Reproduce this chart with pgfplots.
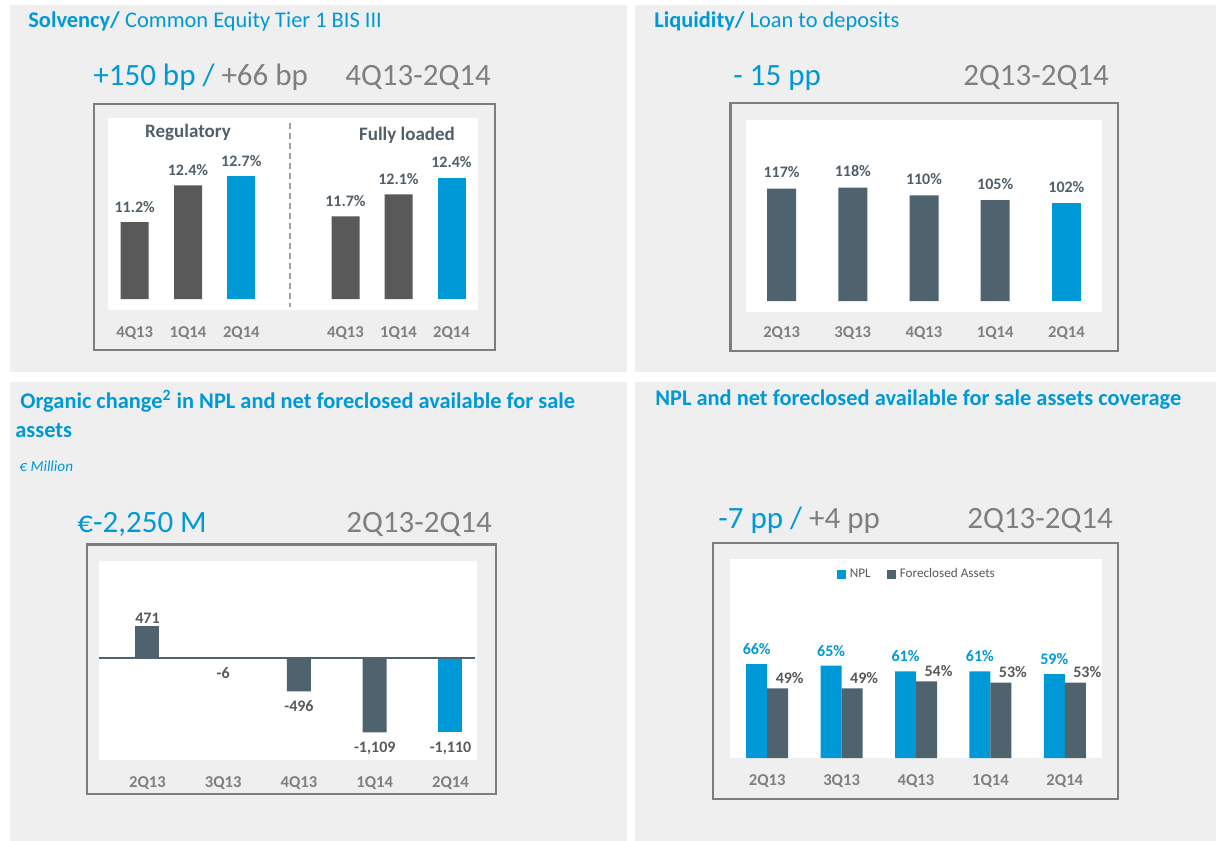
\documentclass[border=0pt]{standalone}
\usepackage{pgfplots}
\pgfplotsset{compat=1.18}
\usepackage{fontspec}
\setmainfont{Carlito}
\definecolor{cblue}{RGB}{0,153,215}
\definecolor{cslate}{RGB}{78,99,110}
\definecolor{cdark}{RGB}{89,89,89}
\definecolor{cgray}{RGB}{127,127,127}
\definecolor{cbg}{RGB}{239,239,239}
\definecolor{cbox}{RGB}{125,125,125}
\definecolor{clab}{RGB}{80,95,105}
\newcommand\fs[1]{\fontsize{#1}{#1}\selectfont}
\pgfplotsset{
  panel/.style={
    scale only axis,
    anchor=north west,
    axis line style={draw=none},
    major tick length=0pt,
    ytick=\empty,
    xtick={0,...,4},
    xticklabel style={font=\fs{8.3}\bfseries, text=cgray, anchor=base, inner sep=0pt},
    nodes near coords style={anchor=base, inner sep=0pt},
    /pgf/number format/assume math mode=true,
  },
}
\begin{document}
\begin{tikzpicture}
\begin{scope}[x=0.5pt,y=-0.5pt]
\useasboundingbox (0,0) rectangle (1216,841);
\fill[white] (0,0) rectangle (1216,841);
% panels
\fill[cbg] (10,5) rectangle (627,372);
\fill[cbg] (635,5) rectangle (1216,372);
\fill[cbg] (10,382) rectangle (627,841);
\fill[cbg] (635,382) rectangle (1216,841);
% boxes
\draw[cbox, line width=1.25pt] (94,104) rectangle (495,350);
\draw[cbox, line width=1.25pt] (730.5,103) rectangle (1118,351);
\draw[cbox, line width=1.25pt] (87,544.5) rectangle (496,794);
\draw[cbox, line width=1.25pt] (713,543) rectangle (1118,799);
% white plot areas
\fill[white] (108,118) rectangle (478,310);
\fill[white] (746,120) rectangle (1102,312);
\fill[white] (99,561) rectangle (477,760);
\fill[white] (730,559) rectangle (1102,758);
% dashed divider
\draw[cgray!75, line width=0.8pt, dash pattern=on 3pt off 2pt] (290,123) -- (290,307);
% texts top-left
\node[anchor=base west, inner sep=0, text=cblue, font=\fs{11.2}] at (28,27) {\textbf{Solvency/} Common Equity Tier 1 BIS III};
\node[anchor=base west, inner sep=0, font=\fs{15.5}] at (93,85) {\textcolor{cblue}{+150 bp /} \textcolor{cgray}{+66 bp}};
\node[anchor=base west, inner sep=0, text=cgray, font=\fs{15.5}] at (345,85) {4Q13-2Q14};
\node[anchor=base, inner sep=0, text=clab, font=\fs{9.5}\bfseries] at (188,137) {Regulatory};
\node[anchor=base, inner sep=0, text=clab, font=\fs{9.5}\bfseries] at (407,140) {Fully loaded};
% texts top-right
\node[anchor=base west, inner sep=0, text=cblue, font=\fs{11.2}] at (654,27) {\textbf{Liquidity/} Loan to deposits};
\node[anchor=base west, inner sep=0, text=cblue, font=\fs{15.5}] at (733,85) {- 15 pp};
\node[anchor=base west, inner sep=0, text=cgray, font=\fs{15.5}] at (963,85) {2Q13-2Q14};
% texts bottom-left
\node[anchor=base west, inner sep=0, text=cblue, font=\fs{11.2}\bfseries] at (20,408) {Organic change\textsuperscript{2} in NPL and net foreclosed available for sale};
\node[anchor=base west, inner sep=0, text=cblue, font=\fs{11.2}\bfseries] at (15,437) {assets};
\node[anchor=base west, inner sep=0, text=cblue, font=\fs{7.6}\itshape] at (19,471) {€ Million};
\node[anchor=base west, inner sep=0, text=cblue, font=\fs{15.5}] at (77,532) {€-2,250 M};
\node[anchor=base west, inner sep=0, text=cgray, font=\fs{15.5}] at (346,532) {2Q13-2Q14};
% texts bottom-right
\node[anchor=base west, inner sep=0, text=cblue, font=\fs{11.2}\bfseries] at (655,405) {NPL and net foreclosed available for sale assets coverage};
\node[anchor=base west, inner sep=0, font=\fs{15.5}] at (718,528) {\textcolor{cblue}{-7 pp /} \textcolor{cgray}{+4 pp}};
\node[anchor=base west, inner sep=0, text=cgray, font=\fs{15.5}] at (967,528) {2Q13-2Q14};
\end{scope}

% Solvency - Regulatory
\begin{axis}[panel, at={(54pt,-59.5pt)}, width=80pt, height=90pt,
  xmin=-0.5, xmax=2.5, ymin=8.7, ymax=14.563,
  xtick={0,1,2}, xticklabels={4Q13,1Q14,2Q14},
  xticklabel style={yshift=-19pt},
  ybar, bar width=14pt, bar shift=0pt,
  nodes near coords={\pgfmathprintnumber[fixed,fixed zerofill,precision=1]{\pgfplotspointmeta}\%},
  nodes near coords style={font=\fs{8}\bfseries, text=clab, yshift=5pt}]
\addplot[fill=cdark, draw=none] coordinates {(0,11.2) (1,12.4)};
\addplot[fill=cblue, draw=none] coordinates {(2,12.7)};
\end{axis}

% Solvency - Fully loaded
\begin{axis}[panel, at={(159.5pt,-59.5pt)}, width=79.5pt, height=90pt,
  xmin=-0.5, xmax=2.5, ymin=10.2, ymax=13.47,
  xtick={0,1,2}, xticklabels={4Q13,1Q14,2Q14},
  xticklabel style={yshift=-19pt},
  ybar, bar width=14pt, bar shift=0pt,
  nodes near coords={\pgfmathprintnumber[fixed,fixed zerofill,precision=1]{\pgfplotspointmeta}\%},
  nodes near coords style={font=\fs{8}\bfseries, text=clab, yshift=5pt}]
\addplot[fill=cdark, draw=none] coordinates {(0,11.7) (1,12.1)};
\addplot[fill=cblue, draw=none] coordinates {(2,12.4)};
\end{axis}

% Liquidity
\begin{axis}[panel, at={(373pt,-60pt)}, width=178pt, height=90.5pt,
  xmin=-0.5, xmax=4.5, ymin=0, ymax=188.5,
  xticklabels={2Q13,3Q13,4Q13,1Q14,2Q14},
  xticklabel style={yshift=-18pt},
  ybar, bar width=14.5pt, bar shift=0pt,
  nodes near coords={\pgfmathprintnumber{\pgfplotspointmeta}\%},
  nodes near coords style={font=\fs{8}\bfseries, text=clab, yshift=5.5pt}]
\addplot[fill=cslate, draw=none] coordinates {(0,117) (1,118) (2,110) (3,105)};
\addplot[fill=cblue, draw=none] coordinates {(4,102)};
\end{axis}

% Organic change
\begin{axis}[panel, at={(49.5pt,-280.5pt)}, width=189pt, height=99.5pt,
  xmin=-0.64, xmax=4.35, ymin=-1522, ymax=1448,
  xticklabels={2Q13,3Q13,4Q13,1Q14,2Q14},
  xticklabel style={yshift=-13.5pt},
  ybar, bar width=12pt, bar shift=0pt,
  nodes near coords={\pgfmathprintnumber{\pgfplotspointmeta}},
  nodes near coords style={font=\fs{8}\bfseries, text=cdark}]
\addplot[fill=cslate, draw=none, nodes near coords style={anchor=base, yshift=1.5pt}] coordinates {(0,471)};
\addplot[fill=cslate, draw=none, nodes near coords style={anchor=north, yshift=-4.5pt}] coordinates {(1,-6) (2,-496) (3,-1109)};
\addplot[fill=cblue, draw=none, nodes near coords style={anchor=north, yshift=-4.5pt}] coordinates {(4,-1110)};
\draw[cslate, line width=1pt] (axis cs:-0.64,0) -- (axis cs:4.33,0);
\end{axis}

% NPL coverage
\begin{axis}[panel, at={(365pt,-279.5pt)}, width=186pt, height=99.5pt,
  xmin=-0.5, xmax=4.5, ymin=0, ymax=140,
  xticklabels={2Q13,3Q13,4Q13,1Q14,2Q14},
  xticklabel style={yshift=-13.5pt},
  ybar=0pt, bar width=10.5pt,
  nodes near coords={\pgfmathprintnumber{\pgfplotspointmeta}\%},
  nodes near coords style={font=\fs{8}\bfseries},
  legend style={at={(0.505,0.995)}, anchor=north, draw=none, fill=none,
    legend columns=2, font=\fs{6.6}, text=cdark,
    /tikz/every even column/.append style={column sep=6pt}},
  legend image code/.code={\fill[#1] (0pt,-2.25pt) rectangle (4.5pt,2.25pt);}]
\addplot[fill=cblue, draw=none, nodes near coords style={text=cblue, yshift=4.75pt}] coordinates {(0,66) (1,65) (2,61) (3,61) (4,59)};
\addplot[fill=cslate, draw=none, nodes near coords style={text=cdark, xshift=6pt, yshift=2.5pt}] coordinates {(0,49) (1,49) (2,54) (3,53) (4,53)};
\legend{NPL, Foreclosed Assets}
\end{axis}
\end{tikzpicture}
\end{document}
